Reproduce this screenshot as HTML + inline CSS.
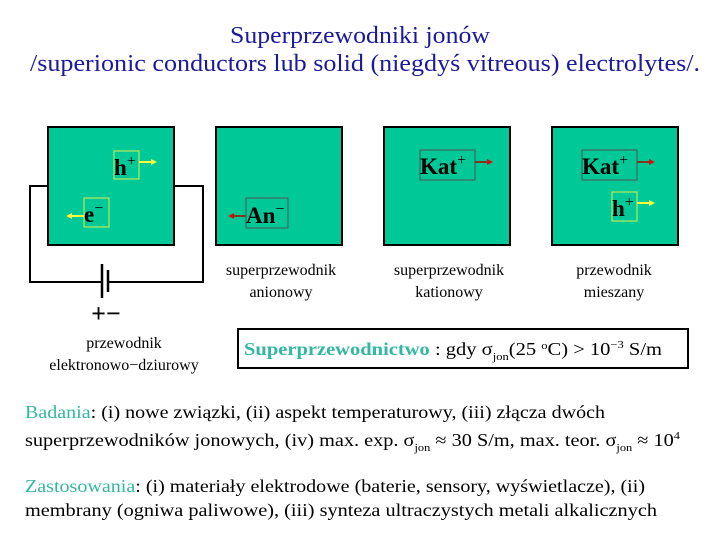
<!DOCTYPE html>
<html><head><meta charset="utf-8"><style>
html,body{margin:0;padding:0;background:#fff;}
svg{display:block}
text{font-family:"Liberation Serif",serif;}
</style></head><body>
<svg width="720" height="540" viewBox="0 0 720 540" xmlns="http://www.w3.org/2000/svg">
<rect width="720" height="540" fill="#fff"/>
<text x="360" y="43" font-size="24" fill="#1a1a9a" text-anchor="middle" textLength="260" lengthAdjust="spacingAndGlyphs">Superprzewodniki jonów</text>
<text x="365" y="71" font-size="24" fill="#1a1a9a" text-anchor="middle" textLength="670" lengthAdjust="spacingAndGlyphs">/superionic conductors lub solid (niegdyś vitreous) electrolytes/.</text>

<!-- circuit -->
<polyline points="47,186 30,186 30,282 102,282" fill="none" stroke="#000" stroke-width="2"/>
<polyline points="175,186 203,186 203,282 108,282" fill="none" stroke="#000" stroke-width="2"/>
<line x1="102" y1="264" x2="102" y2="298" stroke="#000" stroke-width="2.5"/>
<line x1="108" y1="270" x2="108" y2="292" stroke="#000" stroke-width="2.5"/>
<text x="106" y="322" font-size="26" text-anchor="middle" fill="#000" font-weight="bold">+−</text>

<!-- boxes -->
<rect x="48" y="127" width="126" height="118" fill="#00c896" stroke="#000" stroke-width="2"/>
<rect x="216" y="127" width="126" height="118" fill="#00c896" stroke="#000" stroke-width="2"/>
<rect x="384" y="127" width="126" height="118" fill="#00c896" stroke="#000" stroke-width="2"/>
<rect x="552" y="127" width="126" height="118" fill="#00c896" stroke="#000" stroke-width="2"/>

<!-- box1 -->
<rect x="114" y="151" width="25" height="28" fill="none" stroke="#d8f050" stroke-width="1"/>
<text x="114" y="175" font-size="23" font-weight="bold" fill="#000">h<tspan dy="-9" font-size="16" font-weight="normal">+</tspan></text>
<line x1="139" y1="162" x2="153" y2="162" stroke="#ffff40" stroke-width="2"/>
<polygon points="151,159 157,162 151,165" fill="#ffff40"/>
<rect x="84" y="198" width="25" height="29" fill="none" stroke="#d8f050" stroke-width="1"/>
<text x="84" y="222" font-size="23" font-weight="bold" fill="#000">e<tspan dy="-9" font-size="16" font-weight="normal">−</tspan></text>
<line x1="84" y1="216" x2="70" y2="216" stroke="#ffff40" stroke-width="2"/>
<polygon points="72,213 66,216 72,219" fill="#ffff40"/>

<!-- box2 -->
<rect x="246" y="198" width="42" height="30" fill="none" stroke="#555" stroke-width="1"/>
<text x="246" y="223" font-size="23" font-weight="bold" fill="#000">An<tspan dy="-9" font-size="16" font-weight="normal">−</tspan></text>
<line x1="246" y1="216" x2="232" y2="216" stroke="#7a3a20" stroke-width="2"/>
<polygon points="234,213 228,216 234,219" fill="#d01010"/>

<!-- box3 -->
<rect x="420" y="150" width="55" height="30" fill="none" stroke="#555" stroke-width="1"/>
<text x="420" y="174" font-size="23" font-weight="bold" fill="#000">Kat<tspan dy="-9" font-size="16" font-weight="normal">+</tspan></text>
<line x1="475" y1="162" x2="489" y2="162" stroke="#7a3a20" stroke-width="2"/>
<polygon points="487,159 493,162 487,165" fill="#d01010"/>

<!-- box4 -->
<rect x="582" y="150" width="55" height="30" fill="none" stroke="#555" stroke-width="1"/>
<text x="582" y="174" font-size="23" font-weight="bold" fill="#000">Kat<tspan dy="-9" font-size="16" font-weight="normal">+</tspan></text>
<line x1="637" y1="162" x2="651" y2="162" stroke="#7a3a20" stroke-width="2"/>
<polygon points="649,159 655,162 649,165" fill="#d01010"/>
<rect x="612" y="192" width="25" height="29" fill="none" stroke="#d8f050" stroke-width="1"/>
<text x="612" y="216" font-size="23" font-weight="bold" fill="#000">h<tspan dy="-9" font-size="16" font-weight="normal">+</tspan></text>
<line x1="637" y1="203" x2="651" y2="203" stroke="#ffff40" stroke-width="2"/>
<polygon points="649,200 655,203 649,206" fill="#ffff40"/>

<!-- captions -->
<g font-size="16" fill="#000" text-anchor="middle">
<text x="281" y="275">superprzewodnik</text>
<text x="281" y="297">anionowy</text>
<text x="449" y="275">superprzewodnik</text>
<text x="449" y="297">kationowy</text>
<text x="614" y="275">przewodnik</text>
<text x="614" y="297">mieszany</text>
<text x="124" y="348">przewodnik</text>
<text x="124" y="370">elektronowo−dziurowy</text>
</g>

<!-- formula box -->
<rect x="238" y="329" width="450" height="39" fill="#fff" stroke="#000" stroke-width="2"/>
<text x="244" y="355" font-size="18" fill="#000" textLength="418" lengthAdjust="spacingAndGlyphs"><tspan fill="#33b8a0" font-weight="bold">Superprzewodnictwo</tspan> : gdy  σ<tspan font-size="11" dy="5">jon</tspan><tspan dy="-5">(25 </tspan><tspan font-size="11" dy="-6">o</tspan><tspan dy="6">C) &gt; 10</tspan><tspan font-size="11" dy="-7">−3</tspan><tspan dy="7"> S/m</tspan></text>

<!-- bottom text -->
<g font-size="18" fill="#000">
<text x="25" y="418" textLength="580" lengthAdjust="spacingAndGlyphs"><tspan fill="#33b8a0">Badania</tspan>: (i) nowe związki, (ii) aspekt temperaturowy, (iii) złącza dwóch</text>
<text x="25" y="446" textLength="655" lengthAdjust="spacingAndGlyphs">superprzewodników jonowych, (iv) max. exp. σ<tspan font-size="11" dy="5">jon</tspan><tspan dy="-5"> ≈ 30 S/m, max. teor. σ</tspan><tspan font-size="11" dy="5">jon</tspan><tspan dy="-5"> ≈ 10</tspan><tspan font-size="11" dy="-7">4</tspan></text>
<text x="25" y="492" textLength="620" lengthAdjust="spacingAndGlyphs"><tspan fill="#33b8a0">Zastosowania</tspan>: (i) materiały elektrodowe (baterie, sensory, wyświetlacze), (ii)</text>
<text x="25" y="516" textLength="632" lengthAdjust="spacingAndGlyphs">membrany (ogniwa paliwowe), (iii) synteza ultraczystych metali alkalicznych</text>
</g>
</svg>
</body></html>
